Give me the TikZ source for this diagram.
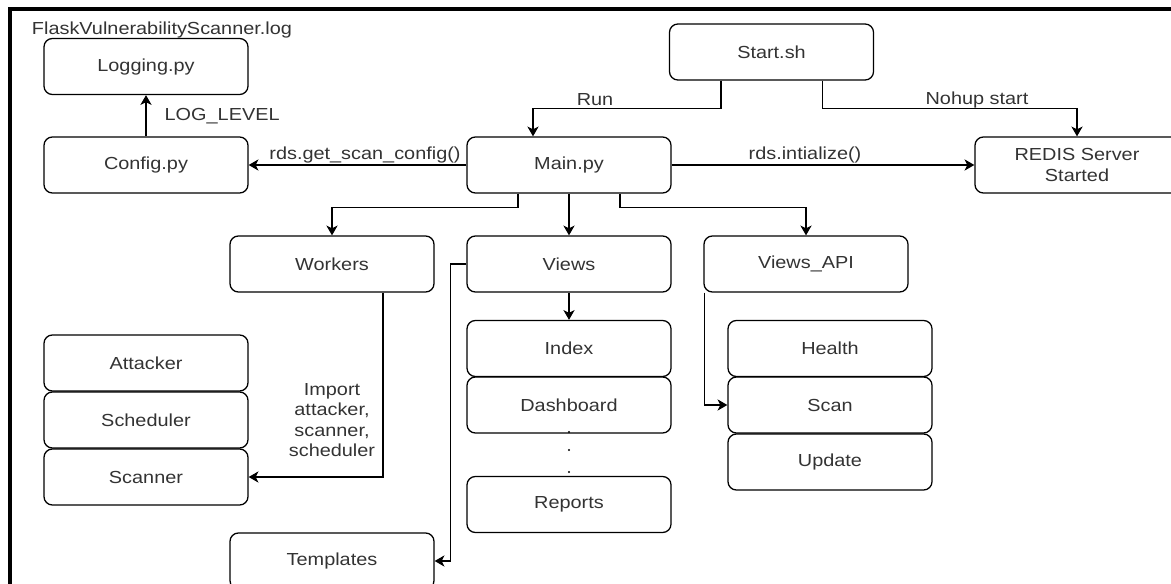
\documentclass[tikz,border=0pt]{standalone}
\usepackage{fontspec}
\setmainfont{Liberation Sans}[FakeStretch=1.14]
\usetikzlibrary{arrows.meta}

\begin{document}
\begin{tikzpicture}[x=0.025cm,y=-0.025cm,
    box/.style={draw,rounded corners=6pt,line width=0.9pt,minimum width=5.1cm,minimum height=1.4cm,
        inner sep=0pt,align=center,text=black!80,font=\fontsize{12.4}{14.5}\selectfont},
    lbl/.style={inner sep=1pt,align=center,text=black!80,font=\fontsize{12.4}{14.5}\selectfont},
    arr/.style={-{Stealth[length=7pt,width=8pt,inset=2pt]},line width=0.9pt}]
    \useasboundingbox (0,0) rectangle (1171,584);
    % Frame
    \draw[line width=2.2pt] (10,584) -- (10,9) -- (1171,9);
    % Top row
    \node[box] (logging) at (146,66.5) {Logging.py};
    \node[lbl] (logfile) at (162,30) {FlaskVulnerabilityScanner.log};
    \node[box] (config) at (146,165) {Config.py};
    \node[box] (start) at (771.5,52) {Start.sh};
    \node[box] (main) at (569,165) {Main.py};
    \node[box] (redis) at (1077,165) {REDIS Server\\Started};
    % Second row
    \node[box] (workers) at (332,264) {Workers};
    \node[box] (views) at (569,264) {Views};
    \node[box] (viewsapi) at (806,264) {Views\_API};
    % Workers modules
    \node[box] (attacker) at (146,363) {Attacker};
    \node[box] (scheduler) at (146,420) {Scheduler};
    \node[box] (scanner) at (146,477) {Scanner};
    \node[box] (templates) at (332,561) {Templates};
    % Views pages
    \node[box] (index) at (569,348.5) {Index};
    \node[box] (dashboard) at (569,405) {Dashboard};
    \node[box] (reports) at (569,504.5) {Reports};
    \foreach \y in {432,450,472}
        \fill (569,\y) circle (1.2);
    % API routes
    \node[box] (health) at (830,348.5) {Health};
    \node[box] (scan) at (830,405) {Scan};
    \node[box] (update) at (830,462) {Update};
    % Arrows
    \draw[arr] (config) -- (logging);
    \node[lbl,anchor=west] (loglevel) at (163,116) {LOG\_LEVEL};
    \draw[arr] ([shift={(-50.5,0)}]start.south) -- ++(0,28) -| ([shift={(-36,0)}]main.north);
    \node[lbl] (run) at (595,100) {Run};
    \draw[arr] ([shift={(51,0)}]start.south) -- ++(0,28) -| (redis.north);
    \node[lbl] (nohup) at (977,100) {Nohup start};
    \draw[arr] (main) -- (redis);
    \node[lbl,anchor=south] (init) at (805,165) {rds.intialize()};
    \draw[arr] (main) -- (config);
    \node[lbl,anchor=south] (getcfg) at (365,165) {rds.get\_scan\_config()};
    \draw[arr] ([shift={(-51,0)}]main.south) -- ++(0,14) -| (workers.north);
    \draw[arr] (main) -- (views);
    \draw[arr] ([shift={(51,0)}]main.south) -- ++(0,14) -| (viewsapi.north);
    \draw[arr] (views) -- (index);
    \draw[arr] ([shift={(1,0)}]viewsapi.south west) |- (scan.west);
    \draw[arr] ([shift={(51,0)}]workers.south) |- (scanner.east);
    \node[lbl] (import) at (332,420) {Import\\attacker,\\scanner,\\scheduler};
    \draw[arr] (views.west) -- ++(-16,0) |- (templates.east);
\end{tikzpicture}
\end{document}
